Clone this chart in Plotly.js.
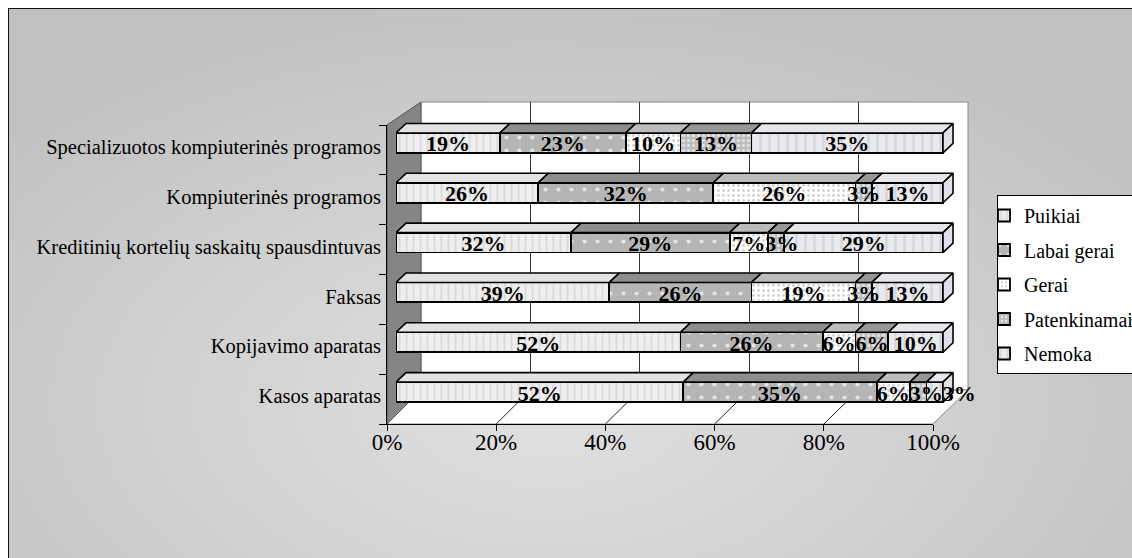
<!DOCTYPE html>
<html>
<head>
<meta charset="utf-8">
<script src="https://cdn.plot.ly/plotly-3.0.1.min.js"></script>
<style>
html,body{margin:0;padding:0;background:#fff;overflow:hidden;}
#bg{position:absolute;left:8px;top:8px;width:1124px;height:550px;border-left:1px solid #111;border-top:1px solid #111;
background:radial-gradient(ellipse 65% 75% at 48% 72%, #e0e0e0 0%, #d3d3d3 45%, #c1c1c1 100%);}
#chart{position:absolute;left:0;top:0;width:1132px;height:558px;}
</style>
</head>
<body>
<div id="bg"></div>
<div id="chart"></div>
<script>
// ---- data ----
const categories = [
  "Specializuotos kompiuterinės programos",
  "Kompiuterinės programos",
  "Kreditinių kortelių saskaitų spausdintuvas",
  "Faksas",
  "Kopijavimo aparatas",
  "Kasos aparatas"
];
const seriesNames = ["Puikiai", "Labai gerai", "Gerai", "Patenkinamai", "Nemoka"];
const puikiai      = [19, 26, 32, 39, 52, 52];
const labaiGerai   = [23, 32, 29, 26, 26, 35];
const gerai        = [10, 26,  7, 19,  6,  6];
const patenkinamai = [13,  3,  3,  3,  6,  3];
const nemoka       = [35, 13, 29, 13, 10,  3];
const xTickVals  = [0, 20, 40, 60, 80, 100];
const xTickText  = ["0%", "20%", "40%", "60%", "80%", "100%"];

// ---- styles ----
const W = 1132, H = 558;
const px = x => x / W, py = y => 1 - y / H;
const FONT = "Liberation Serif";
const frontStyles = [
  {color:"#ececec", pattern:{shape:"|", fgcolor:"#dadada", bgcolor:"#eeeeee", size:7, solidity:0.25}},
  {color:"#b5b5b5", pattern:{shape:".", fgcolor:"#e6e6e6", bgcolor:"#b5b5b5", size:13, solidity:0.08}},
  {color:"#ffffff", pattern:{shape:".", fgcolor:"#d2d2d2", bgcolor:"#ffffff", size:5, solidity:0.25}},
  {color:"#bdbdbd", pattern:{shape:".", fgcolor:"#e4e4e4", bgcolor:"#bdbdbd", size:5, solidity:0.3}},
  {color:"#e4e6ea", pattern:{shape:"|", fgcolor:"#d3d5da", bgcolor:"#e8eaee", size:9, solidity:0.25}}
];
const topColors = ["#e2e2e2", "#8e8e8e", "#bcbcbc", "#979797", "#e6e7ea"];
const sideColor = "#dfe1e6";

const series = [puikiai, labaiGerai, gerai, patenkinamai, nemoka];
const nRows = categories.length;
const rowPos = categories.map((c, i) => i);

// geometry of the 3D effect (in data units)
const BW = 0.4;
const DX = 1.83;
const DY = 0.19;
const XMAX = 110;
const barX0 = 396, pxPerPct = 5.47;

// normalized cumulative positions
const totals = rowPos.map(r => series.reduce((s, a) => s + a[r], 0));
const starts = series.map(() => []), ends = series.map(() => []);
rowPos.forEach(r => {
  let acc = 0;
  series.forEach((a, s) => {
    const v = a[r] / totals[r] * 100;
    starts[s][r] = acc; acc += v; ends[s][r] = acc;
  });
});

const traces = [];
traces.push({type:"scatter", x:[0], y:[0], xaxis:"x", yaxis:"y", mode:"markers", marker:{opacity:0}, showlegend:false, hoverinfo:"skip"});
traces.push({type:"scatter", x:[0], y:[0], xaxis:"x2", yaxis:"y2", mode:"markers", marker:{opacity:0}, showlegend:false, hoverinfo:"skip"});

// front faces: stacked bars
series.forEach((a, s) => {
  traces.push({
    type:"bar", orientation:"h", name:seriesNames[s], x:a, y:rowPos,
    xaxis:"x3", yaxis:"y3", width:BW,
    legendgroup:"g" + s,
    marker:{color:frontStyles[s].color, pattern:frontStyles[s].pattern, line:{color:"#000", width:1.8}},
    hoverinfo:"skip"
  });
});

// top faces
series.forEach((a, s) => {
  const xs = [], ys = [];
  rowPos.forEach(r => {
    if (a[r] <= 0) return;
    const x0 = starts[s][r], x1 = ends[s][r], yt = r - BW / 2;
    xs.push(x0, x1, x1 + DX, x0 + DX, x0, null);
    ys.push(yt, yt, yt - DY, yt - DY, yt, null);
  });
  traces.push({type:"scatter", mode:"lines", x:xs, y:ys, xaxis:"x3", yaxis:"y3",
    fill:"toself", fillcolor:topColors[s], line:{color:"#000", width:1.6},
    showlegend:false, hoverinfo:"skip"});
});

// right side faces
{
  const xs = [], ys = [];
  rowPos.forEach(r => {
    const xe = 100, yt = r - BW / 2, yb = r + BW / 2;
    xs.push(xe, xe + DX, xe + DX, xe, xe, null);
    ys.push(yt, yt - DY, yb - DY, yb, yt, null);
  });
  traces.push({type:"scatter", mode:"lines", x:xs, y:ys, xaxis:"x3", yaxis:"y3",
    fill:"toself", fillcolor:sideColor, line:{color:"#000", width:1.6},
    showlegend:false, hoverinfo:"skip"});
}

// value labels, centred in each segment, nudged right when they would collide
{
  const FS = 22;
  const lx = [], ly = [], lt = [];
  rowPos.forEach(r => {
    let prevRight = -1e9;
    series.forEach((a, s) => {
      const txt = a[r] + "%";
      const wPct = FS * (0.5 * (txt.length - 1) + 1.0) / pxPerPct;
      let c = (starts[s][r] + ends[s][r]) / 2;
      if (c - wPct / 2 < prevRight) c = prevRight + wPct / 2;
      prevRight = c + wPct / 2;
      lx.push(c); ly.push(r + 0.06); lt.push(txt);
    });
  });
  traces.push({type:"scatter", mode:"text", x:lx, y:ly, text:lt, xaxis:"x3", yaxis:"y3",
    textposition:"middle center", cliponaxis:false,
    textfont:{family:FONT, size:FS, color:"#000", weight:"bold"},
    showlegend:false, hoverinfo:"skip"});
}

// ---- walls (decoration) ----
const F0 = 387, F1 = 933, FY = 424;
const B0 = 421, B1 = 968, BT = 102, BB = 390;
const FT = 125;
const path = pts => "M " + pts.map(p => px(p[0]) + "," + py(p[1])).join(" L ") + " Z";
const shapes = [
  {type:"rect", xref:"paper", yref:"paper", x0:px(B0), x1:px(B1), y0:py(BB), y1:py(BT),
   fillcolor:"#ffffff", line:{color:"#8a8a8a", width:1}, layer:"below"},
  {type:"path", xref:"paper", yref:"paper", path:path([[F0,FY],[F1,FY],[B1,BB],[B0,BB]]),
   fillcolor:"#ffffff", line:{color:"#8a8a8a", width:1}, layer:"below"},
  {type:"path", xref:"paper", yref:"paper", path:path([[F0,FT],[B0,BT],[B0,BB],[F0,FY]]),
   fillcolor:"#858585", line:{color:"#555", width:1}, layer:"below"}
];
xTickVals.forEach(t => {
  if (t === 0 || t === 100) return;
  const xf = F0 + (F1 - F0) * t / 100, xb = B0 + (B1 - B0) * t / 100;
  shapes.push({type:"line", xref:"paper", yref:"paper", x0:px(xf), y0:py(FY), x1:px(xb), y1:py(BB),
    line:{color:"#222", width:1}, layer:"below"});
});

const catBounds = [];
for (let i = 0; i <= nRows; i++) catBounds.push(i - 0.5);

const layout = {
  width:W, height:H,
  margin:{l:0, r:0, t:0, b:0, autoexpand:false},
  paper_bgcolor:"rgba(0,0,0,0)", plot_bgcolor:"rgba(0,0,0,0)",
  barmode:"stack", barnorm:"percent",
  font:{family:FONT, color:"#000"},
  shapes:shapes,
  showlegend:true,
  legend:{x:px(997), y:py(195), xanchor:"left", yanchor:"top",
    bgcolor:"#ffffff", bordercolor:"#000", borderwidth:1,
    font:{family:FONT, size:20, color:"#000"},
    traceorder:"grouped", tracegroupgap:5.5, indentation:-14},
  xaxis:{domain:[px(B0), px(B1)], range:[0, 100], tickvals:xTickVals, showgrid:true,
    gridcolor:"#333", gridwidth:1, showticklabels:false, zeroline:false, showline:false,
    ticks:"", anchor:"y", fixedrange:true},
  yaxis:{domain:[py(BB), py(BT)], range:[0, 1], visible:false, anchor:"x", fixedrange:true},
  xaxis2:{domain:[px(F0), px(F1)], range:[0, 100], tickvals:xTickVals, ticktext:xTickText,
    ticks:"outside", ticklen:6, tickcolor:"#000", showline:true, linecolor:"#000", linewidth:1,
    showgrid:false, zeroline:false, anchor:"y2", ticklabelstandoff:-9,
    tickfont:{family:FONT, size:23, color:"#000"}},
  yaxis2:{domain:[py(FY), py(FT)], range:[nRows - 0.5, -0.5], tickvals:catBounds,
    ticks:"outside", ticklen:7, tickcolor:"#000", showticklabels:false, showline:true,
    linecolor:"#000", linewidth:1, showgrid:false, zeroline:false, anchor:"x2"},
  xaxis3:{domain:[px(barX0), px(barX0 + pxPerPct * XMAX)], range:[0, XMAX], visible:false, anchor:"y3"},
  yaxis3:{domain:[py(417), py(118)], range:[nRows - 0.5, -0.5], tickvals:rowPos, ticktext:categories,
    ticks:"", showline:false, showgrid:false, zeroline:false, anchor:"x3",
    ticklabelstandoff:14, ticklabelshift:-4, tickfont:{family:FONT, size:20.5, color:"#000"}}
};

Plotly.newPlot("chart", traces, layout, {staticPlot:true, displayModeBar:false});
</script>
</body>
</html>
